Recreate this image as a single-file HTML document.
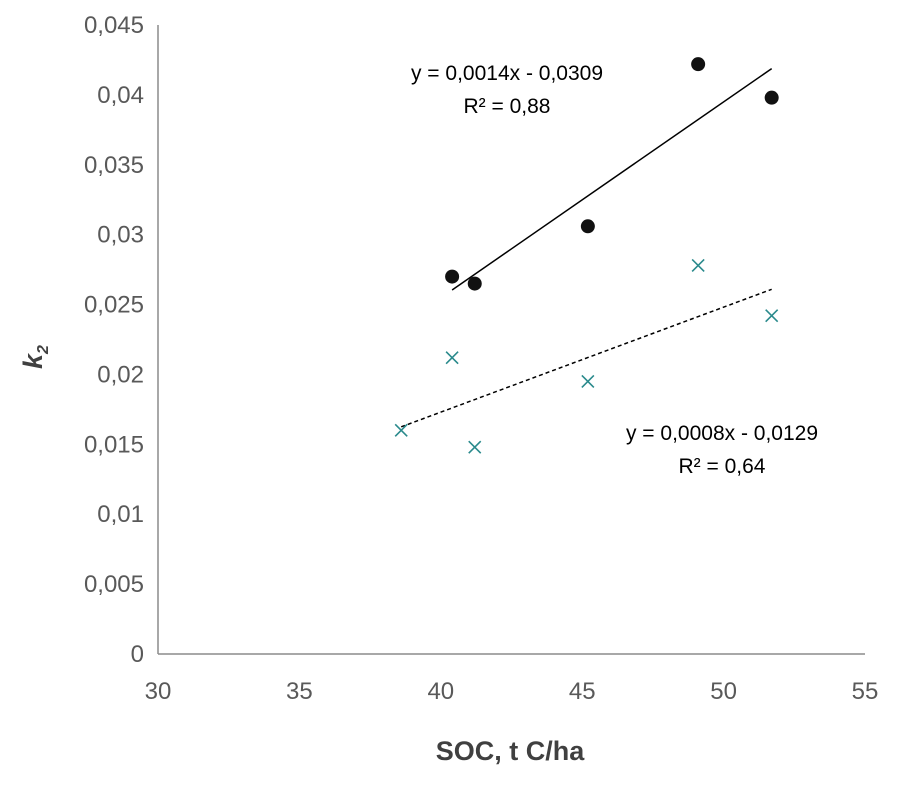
<!DOCTYPE html>
<html><head><meta charset="utf-8"><style>
body{margin:0;background:#fff;}
svg text{font-family:"Liberation Sans",sans-serif;}
</style></head><body>
<svg id="chart" width="906" height="781" viewBox="0 0 906 781" xmlns="http://www.w3.org/2000/svg">
<g id="axes"></g>
<g id="marks"></g>
<text x="510" y="760" text-anchor="middle" font-size="27" font-weight="bold" fill="#404040">SOC, t C/ha</text>
<text transform="translate(42,357) rotate(-90)" text-anchor="middle" font-size="27" font-weight="bold" font-style="italic" fill="#404040">k<tspan font-size="16" dy="6">2</tspan></text>
<text x="507" y="80" text-anchor="middle" font-size="21" fill="#000">y = 0,0014x - 0,0309</text>
<text x="507" y="113" text-anchor="middle" font-size="21" fill="#000">R² = 0,88</text>
<text x="722" y="440" text-anchor="middle" font-size="21" fill="#000">y = 0,0008x - 0,0129</text>
<text x="722" y="473" text-anchor="middle" font-size="21" fill="#000">R² = 0,64</text>
</svg>
<script>
const xTicks=[30,35,40,45,50,55];
const yTicks=[0,0.005,0.01,0.015,0.02,0.025,0.03,0.035,0.04,0.045];
const yTickLabels=["0","0,005","0,01","0,015","0,02","0,025","0,03","0,035","0,04","0,045"];
const seriesAx=[40.4,41.2,45.2,49.1,51.7];
const seriesAy=[0.0270,0.0265,0.0306,0.0422,0.0398];
const seriesBx=[38.6,40.4,41.2,45.2,49.1,51.7];
const seriesBy=[0.0160,0.0212,0.0148,0.0195,0.0278,0.0242];
const NS="http://www.w3.org/2000/svg";
const X0=158,X1=865,Y0=654,Y1=25;
const sx=v=>X0+(v-30)/25*(X1-X0);
const sy=v=>Y0-v/0.045*(Y0-Y1);
function mk(tag,attrs,parent){const e=document.createElementNS(NS,tag);for(const k in attrs)e.setAttribute(k,attrs[k]);parent.appendChild(e);return e;}
const axes=document.getElementById('axes'),marks=document.getElementById('marks');
let l=mk('line',{x1:X0,y1:Y1,x2:X0,y2:Y0,stroke:'#8c8c8c','stroke-width':1.5},axes);


l=mk('line',{x1:X0,y1:Y0,x2:X1,y2:Y0,stroke:'#8c8c8c','stroke-width':1.5},axes);


yTicks.forEach((v,i)=>{const t=mk('text',{x:144,y:sy(v)+8,'text-anchor':'end','font-size':24,fill:'#595959'},axes);t.textContent=yTickLabels[i];

});
xTicks.forEach(v=>{const t=mk('text',{x:sx(v),y:699,'text-anchor':'middle','font-size':24,fill:'#595959'},axes);t.textContent=v;

});
function reg(xs,ys){const n=xs.length,mx=xs.reduce((a,b)=>a+b)/n,my=ys.reduce((a,b)=>a+b)/n;let sxy=0,sxx=0;xs.forEach((x,i)=>{sxy+=(x-mx)*(ys[i]-my);sxx+=(x-mx)*(x-mx);});const m=sxy/sxx;return [m,my-m*mx];}
let [ma,ba]=reg(seriesAx,seriesAy);
let x1=Math.min(...seriesAx),x2=Math.max(...seriesAx);
l=mk('line',{x1:sx(x1),y1:sy(ma*x1+ba),x2:sx(x2),y2:sy(ma*x2+ba),stroke:'#000','stroke-width':1.5},marks);


let [mb,bb]=reg(seriesBx,seriesBy);
x1=Math.min(...seriesBx);x2=Math.max(...seriesBx);
l=mk('line',{x1:sx(x1),y1:sy(mb*x1+bb),x2:sx(x2),y2:sy(mb*x2+bb),stroke:'#000','stroke-width':1.5,'stroke-dasharray':'4,3'},marks);


seriesAx.forEach((x,i)=>{const c=mk('circle',{cx:sx(x),cy:sy(seriesAy[i]),r:7,fill:'#111'},marks);

});
seriesBx.forEach((x,i)=>{const cx=sx(x),cy=sy(seriesBy[i]),d=6;const p=mk('path',{d:`M${cx-d},${cy-d}L${cx+d},${cy+d}M${cx-d},${cy+d}L${cx+d},${cy-d}`,stroke:'#2a8a8c','stroke-width':1.6,fill:'none'},marks);

});
</script>
</body></html>
